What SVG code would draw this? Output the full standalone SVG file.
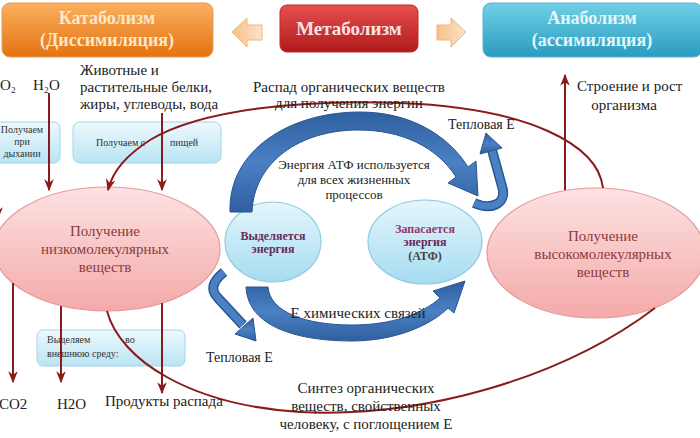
<svg xmlns="http://www.w3.org/2000/svg" width="700" height="438" viewBox="0 0 700 438">
<defs>
<linearGradient id="gOr" x1="0" y1="0" x2="0" y2="1"><stop offset="0" stop-color="#fbb060"/><stop offset="1" stop-color="#e4720f"/></linearGradient>
<linearGradient id="gRd" x1="0" y1="0" x2="0" y2="1"><stop offset="0" stop-color="#e85050"/><stop offset="1" stop-color="#b01a1a"/></linearGradient>
<linearGradient id="gBl" x1="0" y1="0" x2="0" y2="1"><stop offset="0" stop-color="#6fd0e6"/><stop offset="1" stop-color="#2a9cc0"/></linearGradient>
<linearGradient id="gBox" x1="0" y1="0" x2="0" y2="1"><stop offset="0" stop-color="#eef9fd"/><stop offset="1" stop-color="#b9e4f4"/></linearGradient>
<linearGradient id="gPink" x1="0" y1="0" x2="0" y2="1"><stop offset="0" stop-color="#fde2e2"/><stop offset="1" stop-color="#f4a9a9"/></linearGradient>
<linearGradient id="gCyan" x1="0" y1="0" x2="0" y2="1"><stop offset="0" stop-color="#e4f6fc"/><stop offset="1" stop-color="#a6dcf0"/></linearGradient>
<linearGradient id="gArr" x1="0" y1="0" x2="1" y2="0"><stop offset="0" stop-color="#f6c08a"/><stop offset="1" stop-color="#fde3c8"/></linearGradient>
<linearGradient id="gBlue" x1="0" y1="0" x2="0" y2="1"><stop offset="0" stop-color="#2f5f9f"/><stop offset="0.5" stop-color="#4a80c4"/><stop offset="1" stop-color="#2f5f9f"/></linearGradient>
<marker id="ah2" viewBox="0 0 10 10" refX="9" refY="5" markerWidth="12" markerHeight="12" orient="auto" markerUnits="userSpaceOnUse">
<path d="M0,1 L10,5 L0,9 L3,5 Z" fill="#8b1a1a"/>
</marker>
</defs>
<style>
.hdr{font-family:"Liberation Serif",serif;font-weight:bold;text-anchor:middle}
.t{font-family:"Liberation Serif",serif;fill:#222}
.tm{font-family:"Liberation Serif",serif;fill:#222;text-anchor:middle}
.box{fill:url(#gBox);stroke:#a6d4e8;stroke-width:1}
.bt{font-family:"Liberation Serif",serif;font-size:10px;fill:#333}
.ell{fill:url(#gPink);stroke:#e39a9a;stroke-width:1.2}
.et{font-family:"Liberation Serif",serif;font-size:15px;fill:#8c3b3b;text-anchor:middle}
.cy{fill:url(#gCyan);stroke:#8fcbe2;stroke-width:1.2}
.ct{font-family:"Liberation Serif",serif;font-size:12px;font-weight:bold;text-anchor:middle}
.red{fill:none;stroke:#8b1a1a;stroke-width:2}
.blue{fill:url(#gBlue);stroke:#2a5590;stroke-width:1}
.hd{fill:url(#gArr);stroke:#f0b478;stroke-width:1}
</style>

<g id="catabolism">
<rect x="2" y="3" width="211" height="54" rx="8" fill="url(#gOr)" stroke="#e89a5a"/>
<text class="hdr" x="107" y="24" font-size="18" fill="#fde7cc">Катаболизм</text>
<text class="hdr" x="107" y="46" font-size="18" fill="#fde7cc">(Диссимиляция)</text>
</g>
<g id="metabolism">
<rect x="280" y="5" width="138" height="47" rx="7" fill="url(#gRd)" stroke="#b82a2a"/>
<text class="hdr" x="349" y="35" font-size="19" fill="#fbe3e3">Метаболизм</text>
</g>
<g id="anabolism">
<rect x="483" y="3" width="219" height="54" rx="8" fill="url(#gBl)" stroke="#5ab4cc"/>
<text class="hdr" x="592" y="24" font-size="18" fill="#e3f7fb">Анаболизм</text>
<text class="hdr" x="592" y="46" font-size="18" fill="#e3f7fb">(ассимиляция)</text>
</g>
<g id="header-arrows">
<polygon class="hd" points="232,32 247,18 247,25 262,25 262,40 247,40 247,47"/>
<polygon class="hd" points="466,32 451,18 451,25 437,25 437,40 451,40 451,47"/>
</g>

<g id="box-breath">
<rect class="box" x="-6" y="122" width="66" height="41" rx="6"/>
<text class="bt" x="22" y="133" text-anchor="middle">Получаем</text>
<text class="bt" x="22" y="145" text-anchor="middle">при</text>
<text class="bt" x="22" y="157" text-anchor="middle">дыхании</text>
</g>
<g id="box-food">
<rect class="box" x="73" y="122" width="148" height="41" rx="7"/>
<text class="bt" x="96" y="146">Получаем с</text>
<text class="bt" x="170" y="146">пищей</text>
</g>
<g id="box-release">
<rect class="box" x="37" y="330" width="148" height="36" rx="6"/>
<text class="bt" x="47" y="343" font-size="11">Выделяем</text>
<text class="bt" x="125" y="343" font-size="11">во</text>
<text class="bt" x="47" y="357" font-size="11">внешнюю среду:</text>
</g>

<g id="low-molecular">
<ellipse class="ell" cx="107" cy="249" rx="113" ry="62"/>
<text class="et" x="105" y="236">Получение</text>
<text class="et" x="105" y="254">низкомолекулярных</text>
<text class="et" x="105" y="272">веществ</text>
</g>
<g id="high-molecular">
<ellipse class="ell" cx="596" cy="253" rx="109" ry="65"/>
<text class="et" x="603" y="241">Получение</text>
<text class="et" x="603" y="259">высокомолекулярных</text>
<text class="et" x="603" y="277">веществ</text>
</g>
<g id="energy-release">
<ellipse class="cy" cx="273" cy="242" rx="48" ry="40"/>
<text class="ct" x="273" y="240" fill="#6a2a58">Выделяется</text>
<text class="ct" x="273" y="253" fill="#6a2a58">энергия</text>
</g>
<g id="energy-store">
<ellipse class="cy" cx="425" cy="242" rx="57" ry="42"/>
<text class="ct" x="425" y="233" fill="#9a3565">Запасается</text>
<text class="ct" x="425" y="246" fill="#6a2a58">энергия</text>
<text class="ct" x="425" y="260" fill="#444" font-weight="normal">(АТФ)</text>
</g>

<g id="connectors">
<line class="red" x1="-2" y1="95" x2="-2" y2="218" marker-end="url(#ah2)"/>
<line class="red" x1="49" y1="93" x2="49" y2="190" marker-end="url(#ah2)"/>
<line class="red" x1="162" y1="113" x2="162" y2="190" marker-end="url(#ah2)"/>
<path class="red" d="M603,188 C598,145 530,108 400,103 C300,99 200,110 150,140 C127,155 113,170 108,190" marker-end="url(#ah2)"/>
<line class="red" x1="565" y1="190" x2="565" y2="75" marker-end="url(#ah2)"/>
<line class="red" x1="13" y1="283" x2="13" y2="382" marker-end="url(#ah2)"/>
<line class="red" x1="61" y1="306" x2="61" y2="382" marker-end="url(#ah2)"/>
<line class="red" x1="162" y1="303" x2="162" y2="393" marker-end="url(#ah2)"/>
<path class="red" d="M107,311 C120,360 190,405 300,412 C420,418 560,380 655,308"/>

<path class="blue" d="M230,212 C228,150 290,112 360,112 C410,112 448,135 468,167 L476,161 L478,196 L448,183 L456,177 C437,147 402,130 358,130 C300,130 254,162 252,212 Z"/>
<path class="blue" d="M246,287 C248,328 300,341 352,341 C394,341 430,326 448,308 L454,313 L465,281 L433,291 L440,298 C422,314 392,325 352,325 C305,325 270,312 268,287 Z"/>
<path d="M224,272 C212,282 210,290 218,298 L243,325" fill="none" stroke="#2a5590" stroke-width="10"/>
<path d="M224,272 C212,282 210,290 218,298 L243,325" fill="none" stroke="#4a80c4" stroke-width="7"/>
<polygon class="blue" points="253,318 235,334 256,341"/>
<path d="M474,203 C490,210 505,205 503,190 L492,150" fill="none" stroke="#2a5590" stroke-width="10"/>
<path d="M474,203 C490,210 505,205 503,190 L492,150" fill="none" stroke="#4a80c4" stroke-width="7"/>
<polygon class="blue" points="480,154 502,148 486,133"/>
</g>

<g id="labels">
<text class="t" x="0" y="90" font-size="15">O₂</text>
<text class="t" x="33" y="90" font-size="15">H₂O</text>
<text class="t" x="80" y="75" font-size="15">Животные и</text>
<text class="t" x="80" y="92" font-size="15">растительные белки,</text>
<text class="t" x="80" y="109" font-size="15">жиры, углеводы, вода</text>
<text class="tm" x="349" y="92" font-size="15">Распад органических веществ</text>
<text class="tm" x="349" y="108" font-size="15">для получения энергии</text>
<text class="t" x="577" y="91" font-size="15">Строение и рост</text>
<text class="tm" x="624" y="110" font-size="15">организма</text>
<text class="t" x="448" y="129" font-size="14">Тепловая Е</text>
<text class="tm" x="354" y="169" font-size="13">Энергия АТФ используется</text>
<text class="tm" x="354" y="184" font-size="13">для всех жизненных</text>
<text class="tm" x="354" y="199" font-size="13">процессов</text>
<text class="tm" x="358" y="318" font-size="15">Е химических связей</text>
<text class="t" x="206" y="362" font-size="14">Тепловая Е</text>
<text class="t" x="-1" y="409" font-size="15">CO2</text>
<text class="t" x="57" y="409" font-size="15">H2O</text>
<text class="t" x="105" y="406" font-size="15">Продукты распада</text>
<text class="tm" x="366" y="393" font-size="15">Синтез органических</text>
<text class="tm" x="366" y="411" font-size="15">веществ, свойственных</text>
<text class="tm" x="366" y="429" font-size="15">человеку, с поглощением Е</text>
</g>
</svg>
